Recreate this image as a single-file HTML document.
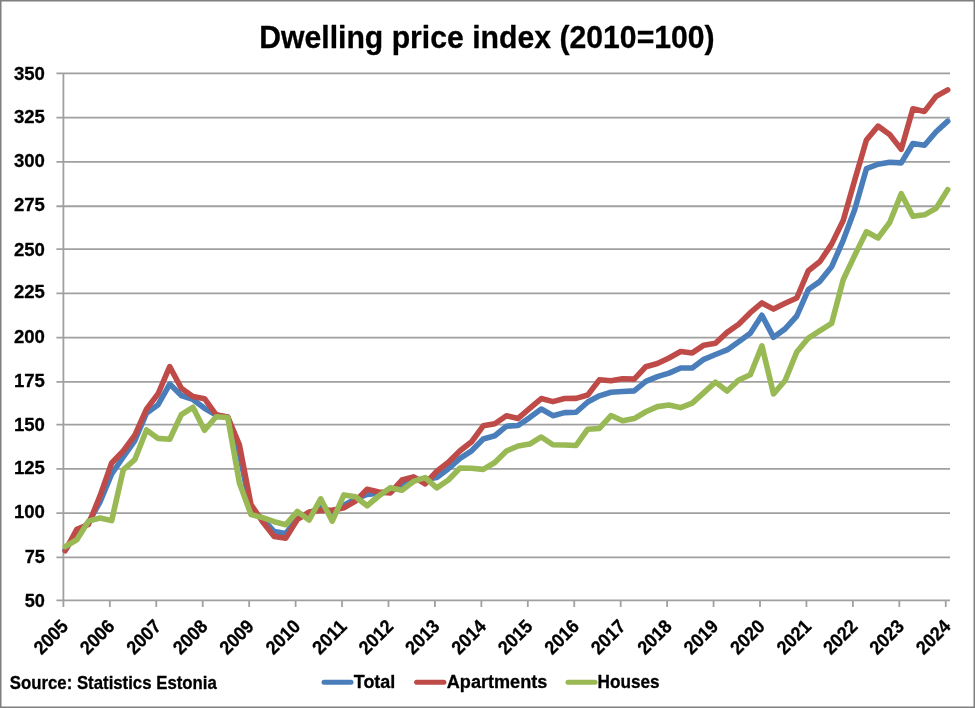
<!DOCTYPE html>
<html><head><meta charset="utf-8"><style>
html,body{margin:0;padding:0;background:#fff;}
body{width:975px;height:708px;overflow:hidden;position:relative;}
svg{position:absolute;left:0;top:0;}
text{font-family:"Liberation Sans",sans-serif;font-weight:bold;fill:#000;stroke:#000;stroke-width:0.3px;stroke-linejoin:round;}
svg{filter:blur(0.3px);}
</style></head><body>
<svg width="975" height="708" viewBox="0 0 975 708">
<rect x="0.75" y="0.75" width="973.5" height="706.5" fill="#fff" stroke="#7f7f7f" stroke-width="1.5"/>
<text x="259.2" y="48.2" font-size="31" textLength="455.5" lengthAdjust="spacingAndGlyphs">Dwelling price index (2010=100)</text>
<g stroke="#a0a0a0" stroke-width="1.8" fill="none">
<line x1="56.4" y1="600.36" x2="950.0" y2="600.36"/>
<line x1="56.4" y1="557.44" x2="950.0" y2="557.44"/>
<line x1="56.4" y1="513.19" x2="950.0" y2="513.19"/>
<line x1="56.4" y1="468.85" x2="950.0" y2="468.85"/>
<line x1="56.4" y1="424.59" x2="950.0" y2="424.59"/>
<line x1="56.4" y1="381.78" x2="950.0" y2="381.78"/>
<line x1="56.4" y1="337.53" x2="950.0" y2="337.53"/>
<line x1="56.4" y1="293.42" x2="950.0" y2="293.42"/>
<line x1="56.4" y1="249.08" x2="950.0" y2="249.08"/>
<line x1="56.4" y1="206.27" x2="950.0" y2="206.27"/>
<line x1="56.4" y1="161.95" x2="950.0" y2="161.95"/>
<line x1="56.4" y1="117.59" x2="950.0" y2="117.59"/>
<line x1="56.4" y1="73.42" x2="950.0" y2="73.42"/>
<line x1="63.4" y1="73.42" x2="63.4" y2="607"/>
<line x1="109.84" y1="600.36" x2="109.84" y2="607"/>
<line x1="156.28" y1="600.36" x2="156.28" y2="607"/>
<line x1="202.72" y1="600.36" x2="202.72" y2="607"/>
<line x1="249.16" y1="600.36" x2="249.16" y2="607"/>
<line x1="295.60" y1="600.36" x2="295.60" y2="607"/>
<line x1="342.04" y1="600.36" x2="342.04" y2="607"/>
<line x1="388.48" y1="600.36" x2="388.48" y2="607"/>
<line x1="434.92" y1="600.36" x2="434.92" y2="607"/>
<line x1="481.36" y1="600.36" x2="481.36" y2="607"/>
<line x1="527.80" y1="600.36" x2="527.80" y2="607"/>
<line x1="574.24" y1="600.36" x2="574.24" y2="607"/>
<line x1="620.68" y1="600.36" x2="620.68" y2="607"/>
<line x1="667.12" y1="600.36" x2="667.12" y2="607"/>
<line x1="713.56" y1="600.36" x2="713.56" y2="607"/>
<line x1="760.00" y1="600.36" x2="760.00" y2="607"/>
<line x1="806.44" y1="600.36" x2="806.44" y2="607"/>
<line x1="852.88" y1="600.36" x2="852.88" y2="607"/>
<line x1="899.32" y1="600.36" x2="899.32" y2="607"/>
<line x1="945.76" y1="600.36" x2="945.76" y2="607"/>
</g>
<g font-size="19">
<text x="44.9" y="607.20" text-anchor="end" textLength="20.2" lengthAdjust="spacingAndGlyphs">50</text>
<text x="44.9" y="562.90" text-anchor="end" textLength="20.2" lengthAdjust="spacingAndGlyphs">75</text>
<text x="44.9" y="518.45" text-anchor="end" textLength="31.0" lengthAdjust="spacingAndGlyphs">100</text>
<text x="44.9" y="474.40" text-anchor="end" textLength="31.0" lengthAdjust="spacingAndGlyphs">125</text>
<text x="44.9" y="431.20" text-anchor="end" textLength="31.0" lengthAdjust="spacingAndGlyphs">150</text>
<text x="44.9" y="387.40" text-anchor="end" textLength="31.0" lengthAdjust="spacingAndGlyphs">175</text>
<text x="44.9" y="342.60" text-anchor="end" textLength="31.0" lengthAdjust="spacingAndGlyphs">200</text>
<text x="44.9" y="298.30" text-anchor="end" textLength="31.0" lengthAdjust="spacingAndGlyphs">225</text>
<text x="44.9" y="255.80" text-anchor="end" textLength="31.0" lengthAdjust="spacingAndGlyphs">250</text>
<text x="44.9" y="211.30" text-anchor="end" textLength="31.0" lengthAdjust="spacingAndGlyphs">275</text>
<text x="44.9" y="167.35" text-anchor="end" textLength="31.0" lengthAdjust="spacingAndGlyphs">300</text>
<text x="44.9" y="123.25" text-anchor="end" textLength="31.0" lengthAdjust="spacingAndGlyphs">325</text>
<text x="44.9" y="80.20" text-anchor="end" textLength="31.0" lengthAdjust="spacingAndGlyphs">350</text>
</g>
<g font-size="19">
<text transform="translate(64.60,622.8) rotate(-45)" x="0" y="6.7" text-anchor="end" textLength="39.5" lengthAdjust="spacingAndGlyphs">2005</text>
<text transform="translate(111.04,622.8) rotate(-45)" x="0" y="6.7" text-anchor="end" textLength="39.5" lengthAdjust="spacingAndGlyphs">2006</text>
<text transform="translate(157.48,622.8) rotate(-45)" x="0" y="6.7" text-anchor="end" textLength="39.5" lengthAdjust="spacingAndGlyphs">2007</text>
<text transform="translate(203.92,622.8) rotate(-45)" x="0" y="6.7" text-anchor="end" textLength="39.5" lengthAdjust="spacingAndGlyphs">2008</text>
<text transform="translate(250.36,622.8) rotate(-45)" x="0" y="6.7" text-anchor="end" textLength="39.5" lengthAdjust="spacingAndGlyphs">2009</text>
<text transform="translate(296.80,622.8) rotate(-45)" x="0" y="6.7" text-anchor="end" textLength="39.5" lengthAdjust="spacingAndGlyphs">2010</text>
<text transform="translate(343.24,622.8) rotate(-45)" x="0" y="6.7" text-anchor="end" textLength="39.5" lengthAdjust="spacingAndGlyphs">2011</text>
<text transform="translate(389.68,622.8) rotate(-45)" x="0" y="6.7" text-anchor="end" textLength="39.5" lengthAdjust="spacingAndGlyphs">2012</text>
<text transform="translate(436.12,622.8) rotate(-45)" x="0" y="6.7" text-anchor="end" textLength="39.5" lengthAdjust="spacingAndGlyphs">2013</text>
<text transform="translate(482.56,622.8) rotate(-45)" x="0" y="6.7" text-anchor="end" textLength="39.5" lengthAdjust="spacingAndGlyphs">2014</text>
<text transform="translate(529.00,622.8) rotate(-45)" x="0" y="6.7" text-anchor="end" textLength="39.5" lengthAdjust="spacingAndGlyphs">2015</text>
<text transform="translate(575.44,622.8) rotate(-45)" x="0" y="6.7" text-anchor="end" textLength="39.5" lengthAdjust="spacingAndGlyphs">2016</text>
<text transform="translate(621.88,622.8) rotate(-45)" x="0" y="6.7" text-anchor="end" textLength="39.5" lengthAdjust="spacingAndGlyphs">2017</text>
<text transform="translate(668.32,622.8) rotate(-45)" x="0" y="6.7" text-anchor="end" textLength="39.5" lengthAdjust="spacingAndGlyphs">2018</text>
<text transform="translate(714.76,622.8) rotate(-45)" x="0" y="6.7" text-anchor="end" textLength="39.5" lengthAdjust="spacingAndGlyphs">2019</text>
<text transform="translate(761.20,622.8) rotate(-45)" x="0" y="6.7" text-anchor="end" textLength="39.5" lengthAdjust="spacingAndGlyphs">2020</text>
<text transform="translate(807.64,622.8) rotate(-45)" x="0" y="6.7" text-anchor="end" textLength="39.5" lengthAdjust="spacingAndGlyphs">2021</text>
<text transform="translate(854.08,622.8) rotate(-45)" x="0" y="6.7" text-anchor="end" textLength="39.5" lengthAdjust="spacingAndGlyphs">2022</text>
<text transform="translate(900.52,622.8) rotate(-45)" x="0" y="6.7" text-anchor="end" textLength="39.5" lengthAdjust="spacingAndGlyphs">2023</text>
<text transform="translate(946.96,622.8) rotate(-45)" x="0" y="6.7" text-anchor="end" textLength="39.5" lengthAdjust="spacingAndGlyphs">2024</text>
</g>
<g fill="none" stroke-width="5.6" stroke-linejoin="round" stroke-linecap="round">
<path stroke="#4A7EBB" d="M65.20,549.83 L76.81,533.72 L88.42,522.75 L100.04,501.84 L111.65,473.99 L123.26,456.99 L134.87,440.52 L146.48,413.12 L158.10,404.73 L169.71,384.01 L181.32,395.48 L192.93,399.42 L204.54,408.32 L216.16,415.17 L227.77,417.23 L239.38,452.92 L250.99,510.53 L262.60,518.50 L274.22,531.60 L285.83,533.55 L297.44,518.50 L309.05,513.19 L320.66,506.98 L332.28,512.30 L343.89,505.21 L355.50,499.00 L367.11,494.39 L378.72,493.15 L390.34,491.55 L401.95,485.17 L413.56,479.49 L425.17,479.49 L436.78,477.54 L448.40,468.67 L460.01,458.40 L471.62,450.79 L483.23,438.93 L494.84,435.74 L506.46,426.18 L518.07,425.48 L529.68,417.57 L541.29,409.01 L552.90,415.69 L564.52,412.60 L576.13,412.26 L587.74,401.99 L599.35,395.82 L610.96,392.23 L622.58,391.54 L634.19,390.86 L645.80,381.43 L657.41,376.65 L669.02,373.11 L680.64,367.97 L692.25,367.97 L703.86,359.30 L715.47,354.52 L727.08,349.92 L738.70,341.78 L750.31,333.30 L761.92,315.30 L773.53,337.35 L785.14,328.88 L796.76,316.00 L808.37,289.52 L819.98,281.36 L831.59,266.82 L843.20,240.35 L854.82,209.18 L866.43,168.69 L878.04,164.25 L889.65,162.30 L901.26,162.84 L912.88,143.50 L924.49,145.27 L936.10,131.79 L947.71,121.14"/>
<path stroke="#BE4B48" d="M65.20,550.71 L76.81,529.30 L88.42,524.52 L100.04,495.81 L111.65,463.01 L123.26,450.97 L134.87,435.21 L146.48,409.18 L158.10,393.77 L169.71,366.56 L181.32,388.29 L192.93,396.51 L204.54,398.73 L216.16,414.83 L227.77,417.06 L239.38,444.77 L250.99,504.68 L262.60,521.69 L274.22,536.55 L285.83,538.15 L297.44,519.39 L309.05,512.13 L320.66,510.35 L332.28,510.35 L343.89,507.87 L355.50,501.13 L367.11,489.25 L378.72,492.08 L390.34,492.97 L401.95,480.02 L413.56,476.83 L425.17,483.93 L436.78,471.16 L448.40,462.30 L460.01,450.79 L471.62,441.76 L483.23,425.83 L494.84,423.73 L506.46,415.69 L518.07,418.43 L529.68,408.32 L541.29,398.56 L552.90,401.64 L564.52,398.56 L576.13,398.39 L587.74,394.97 L599.35,379.83 L610.96,380.72 L622.58,378.77 L634.19,379.12 L645.80,366.73 L657.41,363.55 L669.02,358.06 L680.64,351.51 L692.25,352.93 L703.86,345.14 L715.47,343.19 L727.08,332.41 L738.70,324.30 L750.31,312.65 L761.92,302.95 L773.53,309.12 L785.14,303.30 L796.76,298.01 L808.37,270.72 L819.98,261.50 L831.59,244.11 L843.20,220.48 L854.82,179.68 L866.43,139.95 L878.04,126.11 L889.65,134.45 L901.26,149.35 L912.88,108.76 L924.49,111.41 L936.10,96.39 L947.71,89.85"/>
<path stroke="#98B954" d="M65.20,546.64 L76.81,539.74 L88.42,521.16 L100.04,517.97 L111.65,520.62 L123.26,469.91 L134.87,459.47 L146.48,429.90 L158.10,438.40 L169.71,439.28 L181.32,414.66 L192.93,407.29 L204.54,430.26 L216.16,416.71 L227.77,417.57 L239.38,482.68 L250.99,514.61 L262.60,517.62 L274.22,521.69 L285.83,524.70 L297.44,511.42 L309.05,520.09 L320.66,498.82 L332.28,521.16 L343.89,494.92 L355.50,496.70 L367.11,505.74 L378.72,495.99 L390.34,487.65 L401.95,490.31 L413.56,481.44 L425.17,477.54 L436.78,487.83 L448.40,480.02 L460.01,467.96 L471.62,468.32 L483.23,469.38 L494.84,462.48 L506.46,450.97 L518.07,446.01 L529.68,444.06 L541.29,436.98 L552.90,444.77 L564.52,444.95 L576.13,445.48 L587.74,429.19 L599.35,428.48 L610.96,415.51 L622.58,420.82 L634.19,418.60 L645.80,411.75 L657.41,406.61 L669.02,405.07 L680.64,407.64 L692.25,403.18 L703.86,392.57 L715.47,382.12 L727.08,391.03 L738.70,380.01 L750.31,374.70 L761.92,345.85 L773.53,393.94 L785.14,380.54 L796.76,352.04 L808.37,338.06 L819.98,330.65 L831.59,323.41 L843.20,279.76 L854.82,255.11 L866.43,231.78 L878.04,237.95 L889.65,222.54 L901.26,193.68 L912.88,216.20 L924.49,214.83 L936.10,208.32 L947.71,189.61"/>
</g>
<g font-size="17.9">
<text x="9.8" y="689.2" textLength="207" lengthAdjust="spacingAndGlyphs">Source: Statistics Estonia</text>
</g>
<g stroke-width="5" stroke-linecap="round">
<line x1="324" y1="682.2" x2="351" y2="682.2" stroke="#4A7EBB"/>
<line x1="416.6" y1="682.2" x2="443.9" y2="682.2" stroke="#BE4B48"/>
<line x1="568" y1="682.2" x2="595" y2="682.2" stroke="#98B954"/>
</g>
<g font-size="18">
<text x="353.8" y="687.7" textLength="41.5" lengthAdjust="spacingAndGlyphs">Total</text>
<text x="446.8" y="687.7" textLength="100.5" lengthAdjust="spacingAndGlyphs">Apartments</text>
<text x="597.6" y="687.8" textLength="62" lengthAdjust="spacingAndGlyphs">Houses</text>
</g>
</svg>
</body></html>
